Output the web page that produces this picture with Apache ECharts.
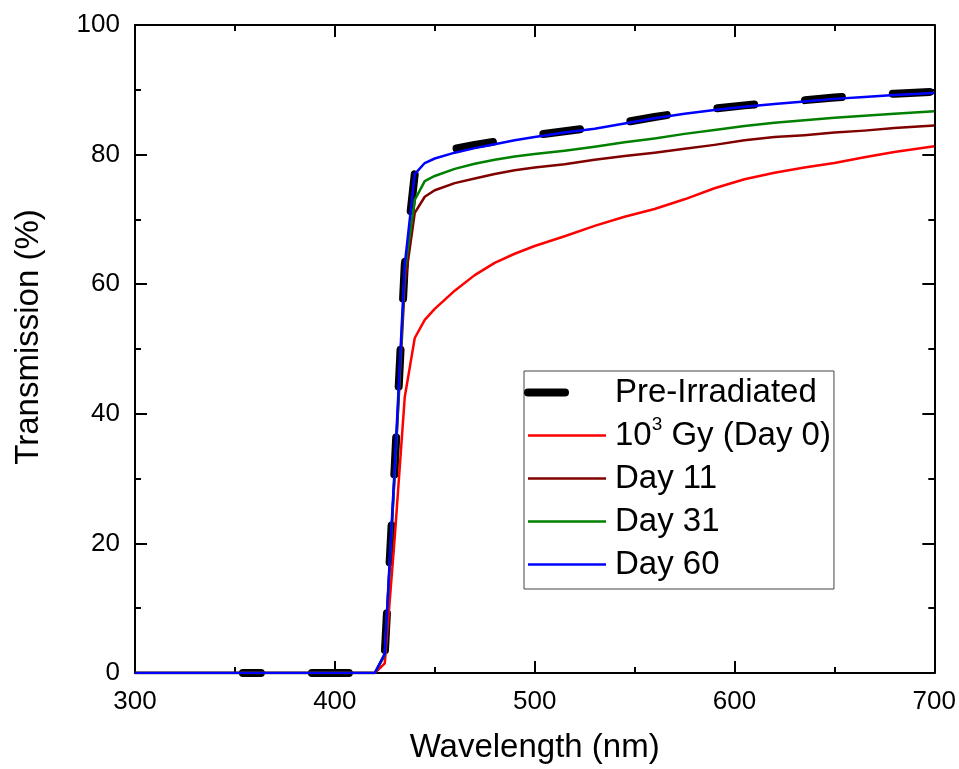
<!DOCTYPE html>
<html>
<head>
<meta charset="utf-8">
<script src="https://cdn.jsdelivr.net/npm/echarts@6/dist/echarts.min.js"></script>
<style>
html,body{margin:0;padding:0;background:#fff;}
#chart{width:959px;height:769px;}
</style>
</head>
<body>
<div id="chart"></div>
<script>
const wavelengths = [300,350,400,420,425,430,435,440,445,450,460,470,480,490,500,515,530,545,560,575,590,605,620,635,650,665,680,700];
const preWavelengths = [354,400,420,425,430,435,440,445,450,460,470,480,490,500,515,530,545,560,575,590,605,620,635,650,665,680,700];
const preIrradiated = [0,0,0,3,32,63,77,79.0,79.8,80.9,81.5,82.0,82.5,83.0,83.6,84.2,85.0,85.8,86.5,87.1,87.6,88.0,88.4,88.8,89.1,89.4,89.7];
const day0 = [0,0,0,0,1.5,21,42.6,51.7,54.5,56.2,59.0,61.4,63.3,64.7,65.9,67.4,69.0,70.4,71.6,73.1,74.8,76.2,77.2,78.0,78.7,79.6,80.4,81.3];
const day11 = [0,0,0,0,2.8,31,60,71,73.5,74.5,75.6,76.3,77.0,77.6,78.0,78.5,79.2,79.8,80.3,80.9,81.5,82.2,82.7,83.0,83.4,83.7,84.1,84.5];
const day31 = [0,0,0,0,2.8,31,62,73,75.9,76.7,77.8,78.6,79.2,79.7,80.1,80.6,81.2,81.9,82.5,83.2,83.8,84.4,84.9,85.3,85.7,86.0,86.3,86.7];
const day60 = [0,0,0,0,3,32,63,77,78.7,79.4,80.3,81.0,81.6,82.2,82.7,83.4,84.0,84.8,85.6,86.3,86.9,87.4,87.8,88.2,88.6,88.9,89.2,89.5];
const seriesNames = ['Pre-Irradiated', '10³ Gy (Day 0)', 'Day 11', 'Day 31', 'Day 60'];
const seriesX = [preWavelengths, wavelengths, wavelengths, wavelengths, wavelengths];
const seriesValues = [preIrradiated, day0, day11, day31, day60];
const seriesColors = ['#000000', '#ff0000', '#800000', '#008000', '#0000ff'];
const xTitle = 'Wavelength (nm)';
const yTitle = 'Transmission (%)';

const FONT = "'Liberation Sans', Arial, sans-serif";
const chart = echarts.init(document.getElementById('chart'), null, {renderer: 'canvas'});

function pairs(xs, vals) { return xs.map((w, i) => [w, vals[i]]); }

const axisLineStyle = {color: '#000', width: 2};
function makeX(pos, withLabels) {
  return {
    type: 'value', position: pos, min: 300, max: 700, interval: 100,
    axisLine: {show: true, onZero: false, lineStyle: axisLineStyle},
    axisTick: {show: true, inside: true, length: 12, lineStyle: {color: '#000', width: 2}},
    minorTick: {show: true, splitNumber: 2, length: 6, lineStyle: {color: '#000', width: 2}},
    splitLine: {show: false}, minorSplitLine: {show: false},
    axisLabel: {show: withLabels, fontSize: 26, color: '#000', fontFamily: FONT, margin: 16},
    name: withLabels ? xTitle : '', nameLocation: 'middle', nameGap: 58,
    nameTextStyle: {fontSize: 33, color: '#000', fontFamily: FONT}
  };
}
function makeY(pos, withLabels) {
  return {
    type: 'value', position: pos, min: 0, max: 100, interval: 20,
    axisLine: {show: true, onZero: false, lineStyle: axisLineStyle},
    axisTick: {show: true, inside: true, length: 12, lineStyle: {color: '#000', width: 2}},
    minorTick: {show: true, splitNumber: 2, length: 6, lineStyle: {color: '#000', width: 2}},
    splitLine: {show: false}, minorSplitLine: {show: false},
    axisLabel: {show: withLabels, fontSize: 26, color: '#000', fontFamily: FONT, margin: 15},
    name: withLabels ? yTitle : '', nameLocation: 'middle', nameGap: 90,
    nameTextStyle: {fontSize: 33, color: '#000', fontFamily: FONT, padding: [0, 0, 0, 24]}
  };
}

const blackLine = {color: '#000000', width: 8, type: [37, 51], cap: 'round', join: 'round'};

const series = seriesNames.map((name, i) => ({
  name: name,
  type: 'line',
  xAxisIndex: 0, yAxisIndex: 0,
  data: pairs(seriesX[i], seriesValues[i]),
  symbol: 'none',
  showSymbol: false,
  smooth: false,
  clip: true,
  z: 2 + i,
  lineStyle: i === 0
    ? Object.assign({dashOffset: 19}, blackLine)
    : {color: seriesColors[i], width: 2.5, type: 'solid', join: 'round'},
  itemStyle: {color: seriesColors[i]},
  emphasis: {disabled: true}
}));

const legendData = seriesNames.map((name, i) => ({
  name: name,
  itemStyle: {opacity: 0},
  lineStyle: i === 0
    ? Object.assign({dashOffset: 0}, blackLine)
    : {color: seriesColors[i], width: 2.5, type: 'solid'}
}));

chart.setOption({
  animation: false,
  backgroundColor: '#fff',
  grid: {left: 135, right: 24, top: 25, bottom: 96, containLabel: false},
  xAxis: [makeX('bottom', true), makeX('top', false)],
  yAxis: [makeY('left', true), makeY('right', false)],
  legend: {
    orient: 'vertical',
    left: 524, top: 371,
    data: legendData,
    itemWidth: 78, itemHeight: 14, itemGap: 2,
    padding: [1, 3, 4, 0],
    borderColor: '#444', borderWidth: 1,
    backgroundColor: '#fff',
    selectedMode: false,
    itemStyle: {opacity: 0},
    formatter: function (n) { return n.replace('³', '{sup|3}'); },
    textStyle: {
      fontSize: 33, color: '#000', fontFamily: FONT, lineHeight: 41,
      padding: [0, 0, 0, 4],
      rich: {sup: {fontSize: 19, color: '#000', fontFamily: FONT, verticalAlign: 'top', lineHeight: 41, padding: [0, 0, 14, 0]}}
    }
  },
  series: series
});
</script>
</body>
</html>
